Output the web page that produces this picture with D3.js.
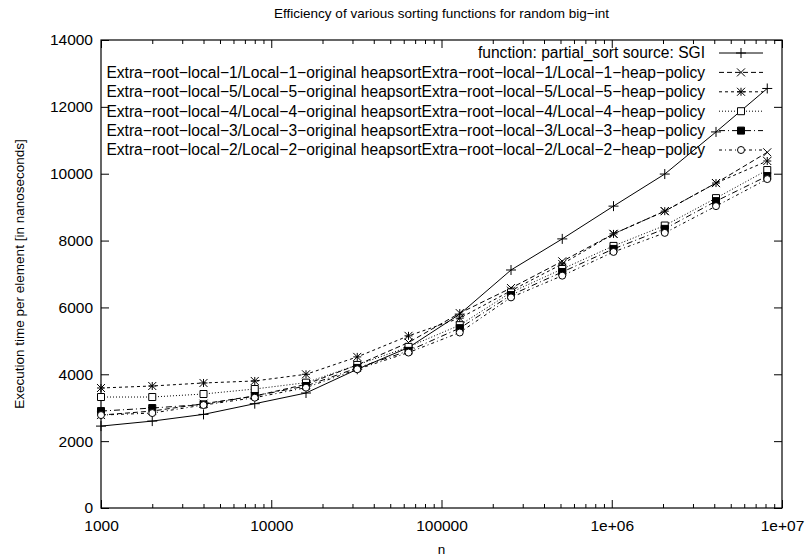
<!DOCTYPE html>
<html>
<head>
<meta charset="utf-8">
<script src="https://cdn.jsdelivr.net/npm/d3@7"></script>
<style>
  body { margin: 0; background: #fff; }
  svg { display: block; font-family: "Liberation Sans", Arial, sans-serif; }
</style>
</head>
<body>
<div id="chart"></div>
<script>
// problem sizes (n)
const sizes = [1000, 2000, 4000, 8000, 16000, 32000, 64000, 128000, 256000,
               512000, 1024000, 2048000, 4096000, 8192000];

// execution time per element, ns
const sgi    = [2450, 2600, 2800, 3120, 3440, 4150, 4800, 5800, 7120, 8050, 9030, 9990, 11250, 12550];
const local1 = [2780, 2900, 3120, 3350, 3700, 4280, 4950, 5830, 6580, 7380, 8200, 8880, 9720, 10640];
const local5 = [3590, 3650, 3740, 3800, 4000, 4520, 5150, 5680, 6500, 7300, 8200, 8880, 9720, 10380];
const local4 = [3320, 3320, 3410, 3560, 3750, 4280, 4820, 5470, 6450, 7150, 7840, 8450, 9270, 10110];
const local3 = [2900, 2990, 3100, 3350, 3650, 4190, 4700, 5380, 6370, 7060, 7750, 8350, 9180, 9930];
const local2 = [2780, 2840, 3080, 3300, 3600, 4150, 4650, 5250, 6300, 6950, 7660, 8230, 9030, 9840];

const seriesNames = [
  "function: partial_sort source: SGI",
  "Extra\u2212root\u2212local\u22121/Local\u22121\u2212original heapsortExtra\u2212root\u2212local\u22121/Local\u22121\u2212heap\u2212policy",
  "Extra\u2212root\u2212local\u22125/Local\u22125\u2212original heapsortExtra\u2212root\u2212local\u22125/Local\u22125\u2212heap\u2212policy",
  "Extra\u2212root\u2212local\u22124/Local\u22124\u2212original heapsortExtra\u2212root\u2212local\u22124/Local\u22124\u2212heap\u2212policy",
  "Extra\u2212root\u2212local\u22123/Local\u22123\u2212original heapsortExtra\u2212root\u2212local\u22123/Local\u22123\u2212heap\u2212policy",
  "Extra\u2212root\u2212local\u22122/Local\u22122\u2212original heapsortExtra\u2212root\u2212local\u22122/Local\u22122\u2212heap\u2212policy"
];
const seriesValues = [sgi, local1, local5, local4, local3, local2];

const xTickValues = [1000, 10000, 100000, 1000000, 10000000];
const xTickLabels = ["1000", "10000", "100000", "1e+06", "1e+07"];
const yTickValues = [0, 2000, 4000, 6000, 8000, 10000, 12000, 14000];

// line style + point type per series (gnuplot look)
const styles = [
  { dash: null,          marker: "plus",   fill: false },
  { dash: "5,3",         marker: "times",  fill: false },
  { dash: "3,3",         marker: "star",   fill: false },
  { dash: "1,2",         marker: "square", fill: false },
  { dash: "6,3,1,3",     marker: "square", fill: true  },
  { dash: "3,3,1,3",     marker: "circle", fill: false }
];

const width = 808, height = 559;
const margin = { top: 40, right: 26, bottom: 51, left: 101 };

const svg = d3.select("#chart").append("svg")
  .attr("width", width)
  .attr("height", height);

const x = d3.scaleLog()
  .domain([1000, 10000000])
  .range([margin.left, width - margin.right]);

const y = d3.scaleLinear()
  .domain([0, 14000])
  .range([height - margin.bottom, margin.top]);

// minor ticks for the log axis
const minorTicks = [];
for (let d = 1000; d < 10000000; d *= 10) {
  for (let k = 2; k <= 9; k++) minorTicks.push(d * k);
}

// marker paths
function markerPath(type, s) {
  const plus = `M${-s},0H${s}M0,${-s}V${s}`;
  const times = `M${-s},${-s}L${s},${s}M${-s},${s}L${s},${-s}`;
  if (type === "plus") return plus;
  if (type === "times") return times;
  if (type === "star") return plus + times;
  if (type === "square") return `M${-s},${-s}H${s}V${s}H${-s}Z`;
  if (type === "circle") return d3.arc()({ innerRadius: 0, outerRadius: s, startAngle: 0, endAngle: 2 * Math.PI });
}
const markerSize = { plus: 5, times: 4, star: 4, square: 3.5, circle: 3.5 };

// axes: major + minor ticks, mirrored on top and right
const bottomY = height - margin.bottom, topY = margin.top;
const leftX = margin.left, rightX = width - margin.right;

svg.append("g")
  .attr("transform", `translate(0,${bottomY})`)
  .call(d3.axisBottom(x).tickValues(xTickValues)
    .tickFormat((d, i) => xTickLabels[i])
    .tickSizeInner(-8).tickSizeOuter(0).tickPadding(12))
  .call(g => g.select(".domain").remove())
  .call(g => g.selectAll("text").attr("font-size", 15.5).attr("fill", "#000").attr("font-family", null));

svg.append("g")
  .attr("transform", `translate(0,${bottomY})`)
  .call(d3.axisBottom(x).tickValues(minorTicks).tickFormat("").tickSizeInner(-4).tickSizeOuter(0))
  .call(g => g.select(".domain").remove());

svg.append("g")
  .attr("transform", `translate(0,${topY})`)
  .call(d3.axisTop(x).tickValues(xTickValues).tickFormat("").tickSizeInner(-8).tickSizeOuter(0))
  .call(g => g.select(".domain").remove());

svg.append("g")
  .attr("transform", `translate(0,${topY})`)
  .call(d3.axisTop(x).tickValues(minorTicks).tickFormat("").tickSizeInner(-4).tickSizeOuter(0))
  .call(g => g.select(".domain").remove());

svg.append("g")
  .attr("transform", `translate(${leftX},0)`)
  .call(d3.axisLeft(y).tickValues(yTickValues).tickFormat(d3.format("d"))
    .tickSizeInner(-8).tickSizeOuter(0).tickPadding(8))
  .call(g => g.select(".domain").remove())
  .call(g => g.selectAll("text").attr("font-size", 15.5).attr("fill", "#000").attr("font-family", null));

svg.append("g")
  .attr("transform", `translate(${rightX},0)`)
  .call(d3.axisRight(y).tickValues(yTickValues).tickFormat("").tickSizeInner(-8).tickSizeOuter(0))
  .call(g => g.select(".domain").remove());

svg.selectAll(".tick line").attr("stroke", "#000");

// border
svg.append("rect")
  .attr("x", leftX).attr("y", topY)
  .attr("width", rightX - leftX).attr("height", bottomY - topY)
  .attr("fill", "none").attr("stroke", "#000").attr("stroke-width", 1.2);

// series
const line = d3.line().x((d, i) => x(sizes[i])).y(d => y(d));

seriesValues.forEach((vals, si) => {
  const st = styles[si];
  const g = svg.append("g");
  g.append("path")
    .attr("d", line(vals))
    .attr("fill", "none")
    .attr("stroke", "#000")
    .attr("stroke-width", 1)
    .attr("stroke-dasharray", st.dash);
  g.selectAll("path.pt")
    .data(vals)
    .join("path")
    .attr("class", "pt")
    .attr("transform", (d, i) => `translate(${x(sizes[i])},${y(d)})`)
    .attr("d", markerPath(st.marker, markerSize[st.marker]))
    .attr("fill", st.fill ? "#000" : (st.marker === "square" || st.marker === "circle" ? "#fff" : "none"))
    .attr("stroke", "#000")
    .attr("stroke-width", 1);
});

// legend
const legendRight = 705, sampleX0 = 719, sampleX1 = 763, legendTop = 53, rowH = 19.4;
const legend = svg.append("g");
seriesNames.forEach((name, si) => {
  const st = styles[si];
  const ly = legendTop + si * rowH;
  legend.append("text")
    .attr("x", legendRight).attr("y", ly)
    .attr("dy", "0.35em")
    .attr("text-anchor", "end")
    .attr("font-size", 15.6)
    .text(name);
  legend.append("line")
    .attr("x1", sampleX0).attr("x2", sampleX1)
    .attr("y1", ly).attr("y2", ly)
    .attr("stroke", "#000")
    .attr("stroke-dasharray", st.dash);
  legend.append("path")
    .attr("transform", `translate(${(sampleX0 + sampleX1) / 2},${ly})`)
    .attr("d", markerPath(st.marker, markerSize[st.marker]))
    .attr("fill", st.fill ? "#000" : (st.marker === "square" || st.marker === "circle" ? "#fff" : "none"))
    .attr("stroke", "#000");
});

// titles
svg.append("text")
  .attr("x", (leftX + rightX) / 2).attr("y", 13)
  .attr("dy", "0.35em")
  .attr("text-anchor", "middle")
  .attr("font-size", 13.5)
  .text("Efficiency of various sorting functions for random big\u2212int");

svg.append("text")
  .attr("x", (leftX + rightX) / 2).attr("y", 549)
  .attr("dy", "0.35em")
  .attr("text-anchor", "middle")
  .attr("font-size", 13.5)
  .text("n");

svg.append("text")
  .attr("transform", `translate(19,${(topY + bottomY) / 2}) rotate(-90)`)
  .attr("dy", "0.35em")
  .attr("text-anchor", "middle")
  .attr("font-size", 13.5)
  .attr("fill", "#000")
  .text("Execution time per element [in nanoseconds]");
</script>
</body>
</html>
